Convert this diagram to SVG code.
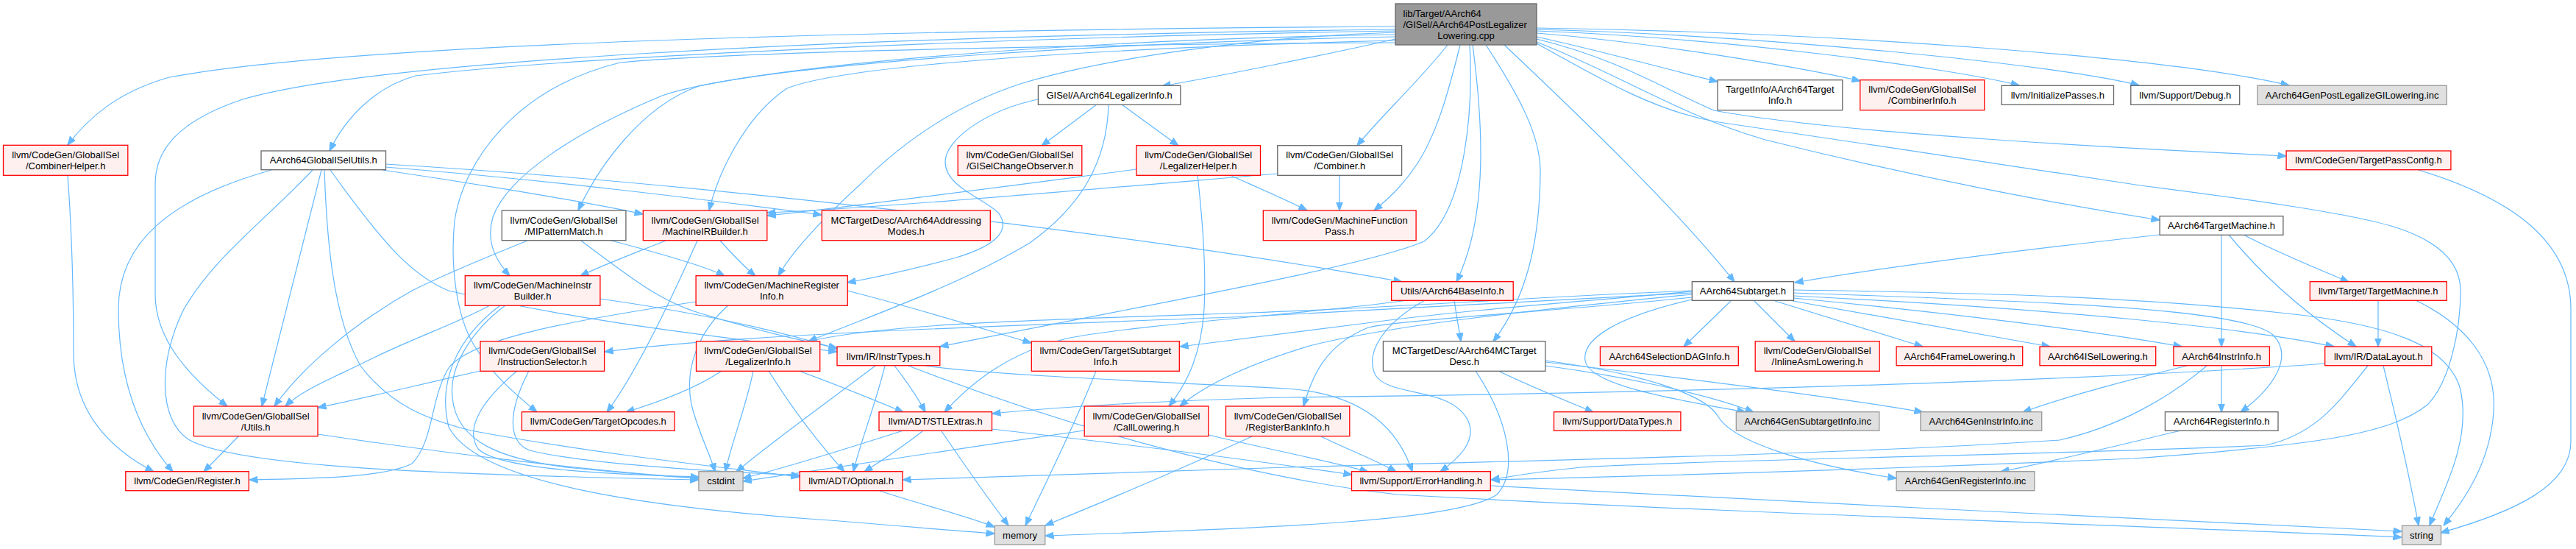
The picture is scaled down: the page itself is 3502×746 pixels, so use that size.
<svg xmlns="http://www.w3.org/2000/svg" width="3502" height="746" viewBox="0 0 3502 746">
<defs>
<marker id="ah" viewBox="0 0 12 10" refX="11.5" refY="5" markerWidth="12" markerHeight="10" markerUnits="userSpaceOnUse" orient="auto">
<path d="M0,0.5 L12,5 L0,9.5 z" fill="#63B8FF" stroke="#63B8FF" stroke-width="1"/>
</marker>
</defs>
<style>
.e{fill:none;stroke:#63B8FF;stroke-width:1.2;marker-end:url(#ah)}
.r{fill:#FFF0F0;stroke:#FF0000;stroke-width:1.3}
.w{fill:#FFFFFF;stroke:#666666;stroke-width:1.3}
.g{fill:#E0E0E0;stroke:#999999;stroke-width:1.3}
.k{fill:#999999;stroke:#666666;stroke-width:1.3}
text{font-family:"Liberation Sans",Arial,sans-serif;font-size:13px;fill:#000000;text-anchor:middle}
.l{text-anchor:start}
</style>
<rect width="3502" height="746" fill="#FFFFFF"/>
<g id="edges">
<path class="e" d="M1897,36 C1300,40 500,55 230,105 C160,125 120,160 92,197"/>
<path class="e" d="M1897,42 C1300,52 750,80 565,103 C510,118 470,160 448,205"/>
<path class="e" d="M1897,40 C1100,50 500,85 330,135 C240,165 211,205 211,250 L211,400 C211,460 255,510 309,552"/>
<path class="e" d="M1897,50 C1500,58 1100,85 950,117 C870,145 812,230 786,286"/>
<path class="e" d="M1897,55 C1500,65 1150,88 1070,120 C1010,160 975,240 964,286"/>
<path class="e" d="M1897,47 C1400,55 1000,95 900,130 C780,180 690,240 670,295 C660,330 675,355 693,375"/>
<path class="e" d="M1897,44 C1700,50 1500,80 1390,113 C1300,142 1230,190 1170,250 C1110,305 1075,345 1058,375"/>
<path class="e" d="M1897,53 C1800,75 1660,103 1580,117"/>
<path class="e" d="M1968,61 C1925,115 1875,160 1845,198"/>
<path class="e" d="M1985,61 C1968,130 1952,185 1925,225 C1905,255 1885,272 1868,286"/>
<path class="e" d="M1998,61 C2003,150 1992,285 1936,328 C1850,365 1500,425 1278,471"/>
<path class="e" d="M2002,61 C2015,160 2025,290 1980,383"/>
<path class="e" d="M2020,61 C2065,130 2095,185 2094,235 C2093,330 2075,405 2030,464"/>
<path class="e" d="M2045,61 C2150,160 2280,285 2358,383"/>
<path class="e" d="M2089,50 C2180,70 2270,95 2335,111"/>
<path class="e" d="M2089,45 C2250,58 2450,92 2529,110"/>
<path class="e" d="M2089,42 C2350,52 2650,92 2745,116"/>
<path class="e" d="M2089,40 C2400,48 2800,88 2908,116"/>
<path class="e" d="M2089,38 C2500,44 2950,78 3112,116"/>
<path class="e" d="M2089,53 C2200,80 2260,120 2330,150 C2500,182 2900,202 3108,212"/>
<path class="e" d="M2089,57 C2200,100 2280,155 2400,190 C2600,240 2800,278 2936,299"/>
<path class="e" d="M2089,59 C2180,110 2250,150 2330,165 C2500,190 2800,235 2910,252 C3050,270 3200,290 3260,310 C3320,330 3345,360 3345,395 C3345,450 3330,520 3300,550 C3250,590 3150,605 2900,623 C2500,640 2200,648 2027,652"/>
<path class="e" d="M1897,58 C1500,60 1000,70 843,85 C700,120 630,220 618,300 C612,360 620,430 645,470 C670,510 700,535 730,560"/>
<path class="e" d="M520,231 C650,250 800,275 874,291"/>
<path class="e" d="M524,227 C750,245 950,270 1117,292"/>
<path class="e" d="M524,223 C900,245 1500,310 1906,383"/>
<path class="e" d="M369,231 C230,270 161,330 161,420 C161,520 190,590 235,641"/>
<path class="e" d="M425,231 C360,300 290,350 250,420 C215,490 215,570 256,597 C320,635 600,645 950,652"/>
<path class="e" d="M437,231 L356,552"/>
<path class="e" d="M441,231 C444,320 452,430 490,497 C530,550 580,570 640,585 C800,615 980,635 1087,648"/>
<path class="e" d="M449,231 C520,330 560,375 610,395 C800,440 1000,460 1138,478"/>
<path class="e" d="M92,238 C98,320 100,400 100,480 C100,560 150,610 209,641"/>
<path class="e" d="M324,593 L277,641"/>
<path class="e" d="M432,590 C600,615 800,640 950,650"/>
<path class="e" d="M717,327 C660,350 600,375 560,395 C480,440 410,500 373,552"/>
<path class="e" d="M790,327 C860,380 900,410 950,425 C1030,450 1100,465 1138,473"/>
<path class="e" d="M831,327 C900,345 960,362 985,375"/>
<path class="e" d="M905,327 C860,345 820,360 789,375"/>
<path class="e" d="M948,327 C920,390 870,500 825,560"/>
<path class="e" d="M979,327 C995,345 1015,365 1027,375"/>
<path class="e" d="M1545,230 C1300,262 1150,282 1043,293"/>
<path class="e" d="M1737,236 C1450,260 1200,282 1043,289"/>
<path class="e" d="M1628,238 C1635,300 1640,360 1637,420 C1633,480 1615,520 1589,552"/>
<path class="e" d="M1672,238 C1710,255 1750,272 1777,286"/>
<path class="e" d="M1821,238 L1821,286"/>
<path class="e" d="M1491,142 L1416,198"/>
<path class="e" d="M1525,142 L1602,198"/>
<path class="e" d="M1507,142 C1505,220 1470,280 1400,330 C1300,390 1180,430 1099,464"/>
<path class="e" d="M1411,135 C1340,150 1285,190 1285,220 C1285,255 1340,270 1358,290 C1375,315 1350,335 1300,350 C1240,366 1190,377 1152,384"/>
<path class="e" d="M666,415 C620,440 560,460 500,490 C450,515 410,530 388,552"/>
<path class="e" d="M687,415 C640,450 610,500 615,540 C620,600 680,625 780,636 C850,643 900,647 950,650"/>
<path class="e" d="M680,415 C620,460 595,520 610,580 C650,660 900,690 1100,705 C1200,712 1300,722 1352,725"/>
<path class="e" d="M816,406 C950,425 1060,450 1138,474"/>
<path class="e" d="M1152,395 C1250,420 1330,445 1402,466"/>
<path class="e" d="M990,415 C950,450 930,500 940,550 C950,590 965,615 972,641"/>
<path class="e" d="M946,410 C780,435 640,460 610,500 C585,540 590,600 560,630 C520,650 420,650 339,652"/>
<path class="e" d="M653,504 C560,525 500,540 432,554"/>
<path class="e" d="M703,504 C660,540 630,580 650,610 C680,640 850,645 950,648"/>
<path class="e" d="M719,504 C690,560 690,600 720,612 C800,632 1000,642 1087,646"/>
<path class="e" d="M981,504 C950,525 900,545 851,560"/>
<path class="e" d="M1024,504 C1015,550 995,600 986,641"/>
<path class="e" d="M1045,504 C1080,560 1120,610 1148,641"/>
<path class="e" d="M1086,504 C1130,520 1180,540 1228,560"/>
<path class="e" d="M1190,497 C1120,550 1050,600 1001,641"/>
<path class="e" d="M1203,497 C1190,550 1170,600 1160,641"/>
<path class="e" d="M1216,497 C1230,515 1245,535 1258,560"/>
<path class="e" d="M1235,497 C1450,580 1700,650 1900,672 C2300,695 2900,714 3265,730"/>
<path class="e" d="M1258,497 C1350,510 1600,520 1750,528 C1850,535 1900,580 1920,641"/>
<path class="e" d="M1228,585 C1150,610 1070,635 1010,650"/>
<path class="e" d="M1254,586 C1230,605 1200,625 1175,641"/>
<path class="e" d="M1280,586 C1310,630 1345,680 1371,714"/>
<path class="e" d="M1348,583 C1500,600 1700,625 1838,645"/>
<path class="e" d="M1196,667 C1250,685 1310,700 1352,716"/>
<path class="e" d="M1490,504 C1460,580 1420,660 1394,714"/>
<path class="e" d="M1474,585 C1300,610 1100,640 1010,654"/>
<path class="e" d="M1643,591 C1700,605 1800,625 1860,641"/>
<path class="e" d="M1702,593 C1600,640 1480,690 1421,714"/>
<path class="e" d="M1796,593 C1830,610 1870,625 1898,641"/>
<path class="e" d="M1977,408 C1980,430 1984,450 1986,464"/>
<path class="e" d="M1937,408 C1880,440 1855,480 1870,510 C1890,540 1970,525 1995,570 C2010,600 1980,625 1958,641"/>
<path class="e" d="M1913,408 C1800,425 1550,440 1450,460 C1370,480 1320,520 1284,560"/>
<path class="e" d="M2037,504 C2080,525 2130,545 2166,560"/>
<path class="e" d="M2006,504 C2050,570 2065,640 2035,672 C1980,710 1700,718 1421,728"/>
<path class="e" d="M2101,497 C2200,510 2320,535 2384,560"/>
<path class="e" d="M2101,492 C2300,515 2500,540 2614,560"/>
<path class="e" d="M2101,490 C2250,510 2320,540 2335,565 C2355,600 2450,630 2578,650"/>
<path class="e" d="M2936,319 C2700,345 2550,365 2440,384"/>
<path class="e" d="M3020,319 L3020,471"/>
<path class="e" d="M3030,319 C3080,380 3140,430 3203,471"/>
<path class="e" d="M3050,319 C3100,345 3150,365 3193,383"/>
<path class="e" d="M3233,408 L3233,471"/>
<path class="e" d="M3284,408 C3350,440 3395,490 3390,560 C3385,630 3350,680 3322,714"/>
<path class="e" d="M3288,231 C3400,265 3495,320 3495,420 L3495,600 C3495,660 3420,695 3318,724"/>
<path class="e" d="M3240,497 C3258,570 3276,650 3288,714"/>
<path class="e" d="M3161,494 C2800,520 2200,535 1750,540 C1550,545 1420,555 1349,562"/>
<path class="e" d="M3219,497 C3180,545 3150,590 3080,605 C2800,618 2300,625 2150,635 C2080,642 2050,648 2027,652"/>
<path class="e" d="M3020,497 L3020,560"/>
<path class="e" d="M2973,497 C2900,515 2820,535 2750,560"/>
<path class="e" d="M2965,585 C2880,605 2800,625 2720,641"/>
<path class="e" d="M3000,497 C2950,540 2880,580 2800,598 C2500,618 2100,625 1750,635 C1500,642 1350,648 1227,652"/>
<path class="e" d="M2300,396 C2150,410 2000,420 1850,440 C1750,452 1680,462 1604,471"/>
<path class="e" d="M2300,400 C2100,420 1900,440 1780,470 C1680,500 1630,530 1604,552"/>
<path class="e" d="M2300,404 C2150,420 1900,435 1860,445 C1800,470 1785,510 1772,552"/>
<path class="e" d="M2300,398 C2050,410 1900,420 1700,430 C1300,445 1000,455 822,478"/>
<path class="e" d="M2300,395 C2050,405 1900,418 1700,425 C1400,435 1200,440 1099,464"/>
<path class="e" d="M2354,408 L2289,471"/>
<path class="e" d="M2384,408 L2440,464"/>
<path class="e" d="M2410,408 L2614,471"/>
<path class="e" d="M2432,408 L2787,471"/>
<path class="e" d="M2438,405 C2650,425 2850,450 2966,471"/>
<path class="e" d="M2438,402 C2800,420 3050,445 3173,471"/>
<path class="e" d="M2438,398 C2800,410 3050,420 3090,455 C3115,480 3100,520 3046,560"/>
<path class="e" d="M2438,394 C2700,398 2900,403 3100,425 C3250,440 3330,470 3345,530 C3360,600 3320,670 3303,714"/>
<path class="e" d="M2300,407 C2200,430 2150,460 2155,490 C2160,525 2290,545 2373,560"/>
<path class="e" d="M2026,660 C2400,680 2900,705 3265,722"/>
</g>
<g id="n_root"><rect class="k" x="1897" y="5" width="192" height="56"/><text class="l" x="1907.5" y="22.6">lib/Target/AArch64</text><text class="l" x="1907.5" y="37.6">/GISel/AArch64PostLegalizer</text><text x="1993" y="52.6">Lowering.cpp</text></g>
<g id="n_combinerhelper"><rect class="r" x="4.5" y="197.3" width="169.3" height="41"/><text x="89.2" y="214.9">llvm/CodeGen/GlobalISel</text><text x="89.2" y="229.9">/CombinerHelper.h</text></g>
<g id="n_gisutils"><rect class="w" x="355" y="205" width="169.5" height="25.7"/><text x="439.8" y="222.4">AArch64GlobalISelUtils.h</text></g>
<g id="n_mipattern"><rect class="w" x="682.3" y="286" width="168.6" height="40.7"/><text x="766.6" y="303.5">llvm/CodeGen/GlobalISel</text><text x="766.6" y="318.5">/MIPatternMatch.h</text></g>
<g id="n_mirbuilder"><rect class="r" x="874.3" y="286" width="168.5" height="40.7"/><text x="958.6" y="303.5">llvm/CodeGen/GlobalISel</text><text x="958.6" y="318.5">/MachineIRBuilder.h</text></g>
<g id="n_addrmodes"><rect class="r" x="1117.3" y="286" width="229" height="40.7"/><text x="1231.8" y="303.5">MCTargetDesc/AArch64Addressing</text><text x="1231.8" y="318.5">Modes.h</text></g>
<g id="n_a64legalizer"><rect class="w" x="1411.4" y="116.3" width="193.4" height="26"/><text x="1508.1" y="133.9">GISel/AArch64LegalizerInfo.h</text></g>
<g id="n_changeobs"><rect class="r" x="1302.2" y="197.7" width="168.6" height="40.6"/><text x="1386.5" y="215.1">llvm/CodeGen/GlobalISel</text><text x="1386.5" y="230.1">/GISelChangeObserver.h</text></g>
<g id="n_leghelper"><rect class="r" x="1544.9" y="197.7" width="168.6" height="40.6"/><text x="1629.2" y="215.1">llvm/CodeGen/GlobalISel</text><text x="1629.2" y="230.1">/LegalizerHelper.h</text></g>
<g id="n_combiner"><rect class="w" x="1736.8" y="197.7" width="168.8" height="40.6"/><text x="1821.2" y="215.1">llvm/CodeGen/GlobalISel</text><text x="1821.2" y="230.1">/Combiner.h</text></g>
<g id="n_mfp"><rect class="r" x="1717.3" y="286" width="207.8" height="40.7"/><text x="1821.2" y="303.5">llvm/CodeGen/MachineFunction</text><text x="1821.2" y="318.5">Pass.h</text></g>
<g id="n_targetinfo"><rect class="w" x="2335" y="108.7" width="169.8" height="41"/><text x="2419.9" y="126.3">TargetInfo/AArch64Target</text><text x="2419.9" y="141.3">Info.h</text></g>
<g id="n_combinerinfo"><rect class="r" x="2528.8" y="108.7" width="169" height="41"/><text x="2613.3" y="126.3">llvm/CodeGen/GlobalISel</text><text x="2613.3" y="141.3">/CombinerInfo.h</text></g>
<g id="n_initpasses"><rect class="w" x="2721.1" y="116.3" width="152.4" height="26"/><text x="2797.3" y="133.9">llvm/InitializePasses.h</text></g>
<g id="n_debug"><rect class="w" x="2896.8" y="116.3" width="147.9" height="26"/><text x="2970.8" y="133.9">llvm/Support/Debug.h</text></g>
<g id="n_genpost"><rect class="g" x="3068.9" y="116.3" width="257.3" height="26"/><text x="3197.6" y="133.9">AArch64GenPostLegalizeGILowering.inc</text></g>
<g id="n_tpc"><rect class="r" x="3108.1" y="205" width="223.8" height="25.7"/><text x="3220" y="222.4">llvm/CodeGen/TargetPassConfig.h</text></g>
<g id="n_a64tm"><rect class="w" x="2936.1" y="293.7" width="167.8" height="25.6"/><text x="3020" y="311.1">AArch64TargetMachine.h</text></g>
<g id="n_utils"><rect class="r" x="263.4" y="552" width="168.6" height="40.7"/><text x="347.7" y="569.5">llvm/CodeGen/GlobalISel</text><text x="347.7" y="584.5">/Utils.h</text></g>
<g id="n_register"><rect class="r" x="170.8" y="640.7" width="167.5" height="26"/><text x="254.6" y="658.3">llvm/CodeGen/Register.h</text></g>
<g id="n_mib"><rect class="r" x="632.3" y="374.7" width="183.6" height="40.6"/><text x="724.1" y="392.1">llvm/CodeGen/MachineInstr</text><text x="724.1" y="407.1">Builder.h</text></g>
<g id="n_mri"><rect class="r" x="946.1" y="374.7" width="206.2" height="40.6"/><text x="1049.2" y="392.1">llvm/CodeGen/MachineRegister</text><text x="1049.2" y="407.1">Info.h</text></g>
<g id="n_isel"><rect class="r" x="653" y="463.7" width="168.6" height="40.6"/><text x="737.3" y="481.1">llvm/CodeGen/GlobalISel</text><text x="737.3" y="496.1">/InstructionSelector.h</text></g>
<g id="n_leginfo"><rect class="r" x="946.5" y="463.7" width="168.2" height="40.6"/><text x="1030.6" y="481.1">llvm/CodeGen/GlobalISel</text><text x="1030.6" y="496.1">/LegalizerInfo.h</text></g>
<g id="n_instrtypes"><rect class="r" x="1138" y="471" width="139.8" height="25.7"/><text x="1207.9" y="488.5">llvm/IR/InstrTypes.h</text></g>
<g id="n_targetopcodes"><rect class="r" x="709.4" y="559.7" width="207.7" height="25.6"/><text x="813.3" y="577.1">llvm/CodeGen/TargetOpcodes.h</text></g>
<g id="n_cstdint"><rect class="g" x="949.9" y="640.7" width="60.2" height="26"/><text x="980" y="658.3">cstdint</text></g>
<g id="n_optional"><rect class="r" x="1087.2" y="640.7" width="139.8" height="26"/><text x="1157.1" y="658.3">llvm/ADT/Optional.h</text></g>
<g id="n_tsi"><rect class="r" x="1402.3" y="463.7" width="201" height="40.6"/><text x="1502.8" y="481.1">llvm/CodeGen/TargetSubtarget</text><text x="1502.8" y="496.1">Info.h</text></g>
<g id="n_stlextras"><rect class="r" x="1195" y="559.7" width="153.5" height="25.6"/><text x="1271.8" y="577.1">llvm/ADT/STLExtras.h</text></g>
<g id="n_calllowering"><rect class="r" x="1474.2" y="552" width="168.6" height="40.7"/><text x="1558.5" y="569.5">llvm/CodeGen/GlobalISel</text><text x="1558.5" y="584.5">/CallLowering.h</text></g>
<g id="n_rbi"><rect class="r" x="1666.5" y="552" width="168.3" height="40.7"/><text x="1750.7" y="569.5">llvm/CodeGen/GlobalISel</text><text x="1750.7" y="584.5">/RegisterBankInfo.h</text></g>
<g id="n_memory"><rect class="g" x="1352.3" y="714.3" width="68.5" height="25.7"/><text x="1386.6" y="731.8">memory</text></g>
<g id="n_baseinfo"><rect class="r" x="1891.6" y="382.7" width="165.6" height="25.6"/><text x="1974.4" y="400.1">Utils/AArch64BaseInfo.h</text></g>
<g id="n_subtarget"><rect class="w" x="2300.3" y="382.7" width="138.2" height="25.6"/><text x="2369.4" y="400.1">AArch64Subtarget.h</text></g>
<g id="n_mctd"><rect class="w" x="1880.4" y="463.7" width="220.5" height="40.6"/><text x="1990.7" y="481.1">MCTargetDesc/AArch64MCTarget</text><text x="1990.7" y="496.1">Desc.h</text></g>
<g id="n_seldag"><rect class="r" x="2175.4" y="471" width="187.9" height="25.7"/><text x="2269.4" y="488.5">AArch64SelectionDAGInfo.h</text></g>
<g id="n_datatypes"><rect class="r" x="2112.5" y="559.7" width="172.4" height="25.6"/><text x="2198.7" y="577.1">llvm/Support/DataTypes.h</text></g>
<g id="n_errhandling"><rect class="r" x="1837.5" y="640.7" width="188.8" height="26"/><text x="1931.9" y="658.3">llvm/Support/ErrorHandling.h</text></g>
<g id="n_inlineasm"><rect class="r" x="2386.2" y="463.7" width="169" height="40.6"/><text x="2470.7" y="481.1">llvm/CodeGen/GlobalISel</text><text x="2470.7" y="496.1">/InlineAsmLowering.h</text></g>
<g id="n_framelow"><rect class="r" x="2578.1" y="471" width="171.6" height="25.7"/><text x="2663.9" y="488.5">AArch64FrameLowering.h</text></g>
<g id="n_iselllow"><rect class="r" x="2773" y="471" width="157.7" height="25.7"/><text x="2851.9" y="488.5">AArch64ISelLowering.h</text></g>
<g id="n_gensub"><rect class="g" x="2360.3" y="559.7" width="194.5" height="25.6"/><text x="2457.6" y="577.1">AArch64GenSubtargetInfo.inc</text></g>
<g id="n_geninstr"><rect class="g" x="2610.9" y="559.7" width="164.8" height="25.6"/><text x="2693.3" y="577.1">AArch64GenInstrInfo.inc</text></g>
<g id="n_genreg"><rect class="g" x="2578.1" y="640.7" width="187.8" height="26"/><text x="2672" y="658.3">AArch64GenRegisterInfo.inc</text></g>
<g id="n_tm"><rect class="r" x="3140.3" y="382.7" width="185.9" height="25.6"/><text x="3233.3" y="400.1">llvm/Target/TargetMachine.h</text></g>
<g id="n_a64instr"><rect class="r" x="2954.9" y="471" width="130.5" height="25.7"/><text x="3020.2" y="488.5">AArch64InstrInfo.h</text></g>
<g id="n_datalayout"><rect class="r" x="3160.7" y="471" width="145.1" height="25.7"/><text x="3233.3" y="488.5">llvm/IR/DataLayout.h</text></g>
<g id="n_a64reg"><rect class="w" x="2943.4" y="559.7" width="153.6" height="25.6"/><text x="3020.2" y="577.1">AArch64RegisterInfo.h</text></g>
<g id="n_string"><rect class="g" x="3265.5" y="714.3" width="53" height="25.7"/><text x="3292" y="731.8">string</text></g>
</svg>
